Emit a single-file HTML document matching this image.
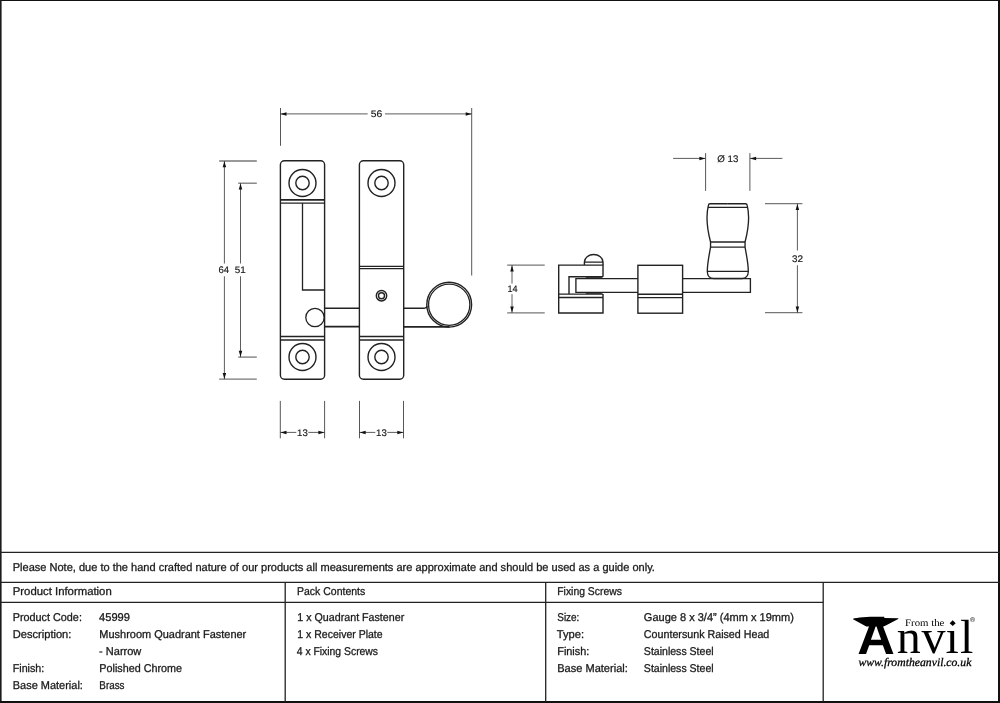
<!DOCTYPE html>
<html lang="en">
<head>
<meta charset="utf-8">
<title>Mushroom Quadrant Fastener - Narrow - Product Drawing</title>
<style>
html,body{margin:0;padding:0;background:#fff;}
body{width:1000px;height:703px;overflow:hidden;font-family:"Liberation Sans",sans-serif;}
svg{display:block;position:absolute;left:0;top:0;will-change:transform;transform:translateZ(0);}
text{white-space:pre;text-rendering:geometricPrecision;}
</style>
</head>
<body>
<svg width="1000" height="703" viewBox="0 0 1000 703">
<g id="frame" fill="#111">
<rect x="0" y="0" width="1000" height="1"/>
<rect x="0" y="0" width="1.6" height="703" fill="#1c1c1c"/>
<rect x="998" y="0" width="2" height="703"/>
<rect x="0" y="701" width="1000" height="2"/>
</g>
<g id="table-lines" stroke="#222" stroke-width="1.3" fill="none">
<line x1="0" y1="552.3" x2="1000" y2="552.3"/>
<line x1="0" y1="582.4" x2="1000" y2="582.4"/>
<line x1="0" y1="602.4" x2="823.2" y2="602.4"/>
<line x1="285.2" y1="582.4" x2="285.2" y2="702"/>
<line x1="545.7" y1="582.4" x2="545.7" y2="702"/>
<line x1="823.2" y1="582.4" x2="823.2" y2="702"/>
</g>
<g id="front-view" stroke="#222" stroke-width="1.4" fill="none">
<rect x="280.4" y="160.8" width="44.2" height="218.4" rx="4"/>
<rect x="359.4" y="160.8" width="44.3" height="218.4" rx="4"/>
<circle cx="302.5" cy="183.0" r="13.5"/><circle cx="302.5" cy="183.0" r="6.7"/>
<circle cx="302.5" cy="357.0" r="13.5"/><circle cx="302.5" cy="357.0" r="6.7"/>
<circle cx="381.5" cy="183.0" r="13.5"/><circle cx="381.5" cy="183.0" r="6.7"/>
<circle cx="381.5" cy="357.0" r="13.5"/><circle cx="381.5" cy="357.0" r="6.7"/>
<line x1="280.4" y1="199.8" x2="324.6" y2="199.8" stroke-width="1.7"/>
<line x1="280.4" y1="203.1" x2="324.6" y2="203.1" stroke-width="1.3"/>
<path d="M302.5 203.1V290H324.6" stroke-width="1.3"/>
<circle cx="315" cy="317.5" r="9.2" stroke-width="1.3"/>
<line x1="280.4" y1="336.5" x2="324.6" y2="336.5"/>
<line x1="280.4" y1="340" x2="324.6" y2="340"/>
<line x1="359.4" y1="266.4" x2="403.7" y2="266.4" stroke-width="1.2"/>
<line x1="359.4" y1="268.6" x2="403.7" y2="268.6" stroke-width="1.2"/>
<circle cx="381.5" cy="295.7" r="5.2" stroke-width="1.45"/><circle cx="381.5" cy="295.7" r="3.0" stroke-width="1.4"/>
<line x1="359.4" y1="336.5" x2="403.7" y2="336.5"/>
<line x1="359.4" y1="340" x2="403.7" y2="340"/>
<line x1="324.6" y1="308.2" x2="359.4" y2="308.2" stroke-width="1.35"/>
<line x1="324.6" y1="326.7" x2="359.4" y2="326.7" stroke-width="1.7"/>
<path d="M403.7 308.2H424.6Q426.6 308 427.1 306" stroke-width="1.35"/>
<line x1="403.7" y1="326.9" x2="449.5" y2="326.9" stroke-width="1.6"/>
<circle cx="449.2" cy="304.7" r="22.4" stroke-width="1.4"/><circle cx="449.2" cy="304.7" r="20.65" stroke-width="1.3"/>
</g>
<g id="side-view" stroke="#222" stroke-width="1.4" fill="none" stroke-linejoin="miter">
<path d="M603 276.8V265.1H558.7V313H603V294.1"/>
<path d="M603 276.8H569V294.1"/>
<line x1="558.7" y1="294.1" x2="603" y2="294.1"/>
<line x1="558.7" y1="297.5" x2="603" y2="297.5"/>
<path d="M584.4 265.1V262.1A9.3 7.6 0 0 1 603 262.1V265.1M584.4 262.1H603"/>
<path d="M637.9 278.6H575.9V292.3H637.9" stroke-width="1.35"/>
<path d="M682.6 278.6H750.4V292.3H682.6" stroke-width="1.35"/>
<line x1="585.8" y1="277.8" x2="601.8" y2="277.8" stroke-width="1.2"/>
<line x1="585.8" y1="293.2" x2="601.8" y2="293.2" stroke-width="1.2"/>
<rect x="637.9" y="265.3" width="44.7" height="47.9"/>
<line x1="637.9" y1="294.3" x2="682.6" y2="294.3"/>
<line x1="637.9" y1="297.6" x2="682.6" y2="297.6"/>
<path d="M727.80 203.7 H745.50 Q747.00 203.7 747.20 205.4 C749.60 215 749.00 227 745.05 242 V247.2 C746.40 255 748.30 263 748.30 271.4 C748.30 276 745.30 278.5 741.90 278.5 H727.80" stroke-width="1.35"/><path d="M727.80 203.7 H710.10 Q708.60 203.7 708.40 205.4 C706.00 215 706.60 227 710.55 242 V247.2 C709.20 255 707.30 263 707.30 271.4 C707.30 276 710.30 278.5 713.70 278.5 H727.80" stroke-width="1.35"/>
<line x1="707.9" y1="207.4" x2="747.6999999999999" y2="207.4" stroke-width="1.3"/>
<line x1="710.55" y1="242" x2="745.05" y2="242" stroke-width="1.3"/>
<line x1="710.55" y1="247.2" x2="745.05" y2="247.2" stroke-width="1.3"/>
<line x1="707.3" y1="271.4" x2="748.3" y2="271.4" stroke-width="1.3"/>
</g>
<g id="ext-h" stroke="#777" stroke-width="1.3" fill="none">
<line x1="219.2" y1="161" x2="256.8" y2="161"/>
<line x1="219.2" y1="379.2" x2="256.8" y2="379.2"/>
<line x1="238.2" y1="183.2" x2="256.8" y2="183.2"/>
<line x1="238.2" y1="357.1" x2="256.8" y2="357.1"/>
<line x1="507.2" y1="265.2" x2="544.7" y2="265.2"/>
<line x1="507.2" y1="312.9" x2="544.7" y2="312.9"/>
<line x1="765" y1="203.7" x2="802.4" y2="203.7"/>
<line x1="765" y1="312.7" x2="802.4" y2="312.7"/>
</g>
<g id="ext-v" stroke="#444" stroke-width="0.9" fill="none">
<line x1="280.5" y1="108" x2="280.5" y2="145.8"/>
<line x1="471.7" y1="108" x2="471.7" y2="275.5"/>
<line x1="280.3" y1="400.9" x2="280.3" y2="438.3"/>
<line x1="324.6" y1="400.9" x2="324.6" y2="438.3"/>
<line x1="359.5" y1="400.9" x2="359.5" y2="438.3"/>
<line x1="403.5" y1="400.9" x2="403.5" y2="438.3"/>
<line x1="705.6" y1="153.1" x2="705.6" y2="190.9"/>
<line x1="749.9" y1="153.1" x2="749.9" y2="190.9"/>
</g>
<g id="dim-lines" stroke="#333" stroke-width="0.8" fill="none">
<line x1="280.5" y1="113.9" x2="367.7" y2="113.9"/>
<line x1="385" y1="113.9" x2="471.7" y2="113.9"/>
<line x1="224.4" y1="161" x2="224.4" y2="263.5"/>
<line x1="224.4" y1="276.3" x2="224.4" y2="379.2"/>
<line x1="240.5" y1="183.2" x2="240.5" y2="263.5"/>
<line x1="240.5" y1="276.3" x2="240.5" y2="357.1"/>
<line x1="280.3" y1="432.4" x2="296.3" y2="432.4"/>
<line x1="308.3" y1="432.4" x2="324.6" y2="432.4"/>
<line x1="359.5" y1="432.4" x2="375.3" y2="432.4"/>
<line x1="387.3" y1="432.4" x2="403.5" y2="432.4"/>
<line x1="512" y1="265.2" x2="512" y2="283.6"/>
<line x1="512" y1="294.2" x2="512" y2="312.9"/>
<line x1="673.1" y1="158.4" x2="705.6" y2="158.4"/>
<line x1="749.9" y1="158.4" x2="782.4" y2="158.4"/>
<line x1="797.4" y1="203.7" x2="797.4" y2="250.5"/>
<line x1="797.4" y1="265.2" x2="797.4" y2="312.7"/>
</g>
<g id="arrows" fill="#111" stroke="none">
<polygon points="280.50,113.90 286.50,112.15 286.50,115.65"/>
<polygon points="471.70,113.90 465.70,112.15 465.70,115.65"/>
<polygon points="224.40,161.30 222.65,167.30 226.15,167.30"/>
<polygon points="224.40,378.90 222.65,372.90 226.15,372.90"/>
<polygon points="240.50,183.50 238.75,189.50 242.25,189.50"/>
<polygon points="240.50,356.80 238.75,350.80 242.25,350.80"/>
<polygon points="280.50,432.40 286.50,430.65 286.50,434.15"/>
<polygon points="324.40,432.40 318.40,430.65 318.40,434.15"/>
<polygon points="359.70,432.40 365.70,430.65 365.70,434.15"/>
<polygon points="403.30,432.40 397.30,430.65 397.30,434.15"/>
<polygon points="512.00,265.50 510.25,271.50 513.75,271.50"/>
<polygon points="512.00,312.60 510.25,306.60 513.75,306.60"/>
<polygon points="705.40,158.40 699.40,156.65 699.40,160.15"/>
<polygon points="750.10,158.40 756.10,156.65 756.10,160.15"/>
<polygon points="797.40,204.00 795.65,210.00 799.15,210.00"/>
<polygon points="797.40,312.40 795.65,306.40 799.15,306.40"/>
</g>
<g id="dim-text">
<text transform="translate(370.80 117.20) scale(1.0891 1)" font-family="'Liberation Sans', sans-serif" font-size="9.5" fill="#1a1a1a" stroke="#1a1a1a" stroke-width="0.18">56</text>
<text transform="translate(218.50 273.30) scale(1.0016 1)" font-family="'Liberation Sans', sans-serif" font-size="9.5" fill="#1a1a1a" stroke="#1a1a1a" stroke-width="0.18">64</text>
<text transform="translate(234.70 273.30) scale(1.0405 1)" font-family="'Liberation Sans', sans-serif" font-size="9.5" fill="#1a1a1a" stroke="#1a1a1a" stroke-width="0.18">51</text>
<text transform="translate(297.10 436.00) scale(1.0113 1)" font-family="'Liberation Sans', sans-serif" font-size="9.5" fill="#1a1a1a" stroke="#1a1a1a" stroke-width="0.18">13</text>
<text transform="translate(376.10 436.00) scale(1.0113 1)" font-family="'Liberation Sans', sans-serif" font-size="9.5" fill="#1a1a1a" stroke="#1a1a1a" stroke-width="0.18">13</text>
<text transform="translate(507.50 292.40) scale(0.9530 1)" font-family="'Liberation Sans', sans-serif" font-size="9.5" fill="#1a1a1a" stroke="#1a1a1a" stroke-width="0.18">14</text>
<text transform="translate(717.30 161.50) scale(1.0240 1)" font-family="'Liberation Sans', sans-serif" font-size="9.5" fill="#1a1a1a" stroke="#1a1a1a" stroke-width="0.18">Ø 13</text>
<text transform="translate(792.00 261.70) scale(1.0405 1)" font-family="'Liberation Sans', sans-serif" font-size="9.5" fill="#1a1a1a" stroke="#1a1a1a" stroke-width="0.18">32</text>
</g>
<g id="table-text">
<text transform="translate(12.75 571.00) scale(0.9760 1)" font-family="'Liberation Sans', sans-serif" font-size="11.3" fill="#1a1a1a" stroke="#1a1a1a" stroke-width="0.3">Please Note, due to the hand crafted nature of our products all measurements are approximate and should be used as a guide only.</text>
<text transform="translate(12.75 595.30) scale(1.0041 1)" font-family="'Liberation Sans', sans-serif" font-size="11.3" fill="#1a1a1a" stroke="#1a1a1a" stroke-width="0.3">Product Information</text>
<text transform="translate(297.05 595.30) scale(0.9279 1)" font-family="'Liberation Sans', sans-serif" font-size="11.3" fill="#1a1a1a" stroke="#1a1a1a" stroke-width="0.3">Pack Contents</text>
<text transform="translate(557.25 595.30) scale(0.9185 1)" font-family="'Liberation Sans', sans-serif" font-size="11.3" fill="#1a1a1a" stroke="#1a1a1a" stroke-width="0.3">Fixing Screws</text>
<text transform="translate(12.75 621.00) scale(0.9573 1)" font-family="'Liberation Sans', sans-serif" font-size="11.3" fill="#1a1a1a" stroke="#1a1a1a" stroke-width="0.3">Product Code:</text>
<text transform="translate(12.75 638.00) scale(0.9831 1)" font-family="'Liberation Sans', sans-serif" font-size="11.3" fill="#1a1a1a" stroke="#1a1a1a" stroke-width="0.3">Description:</text>
<text transform="translate(12.75 671.70) scale(0.9477 1)" font-family="'Liberation Sans', sans-serif" font-size="11.3" fill="#1a1a1a" stroke="#1a1a1a" stroke-width="0.3">Finish:</text>
<text transform="translate(12.75 688.60) scale(0.9713 1)" font-family="'Liberation Sans', sans-serif" font-size="11.3" fill="#1a1a1a" stroke="#1a1a1a" stroke-width="0.3">Base Material:</text>
<text transform="translate(99.05 621.00) scale(0.9829 1)" font-family="'Liberation Sans', sans-serif" font-size="11.3" fill="#1a1a1a" stroke="#1a1a1a" stroke-width="0.3">45999</text>
<text transform="translate(99.35 638.00) scale(0.9706 1)" font-family="'Liberation Sans', sans-serif" font-size="11.3" fill="#1a1a1a" stroke="#1a1a1a" stroke-width="0.3">Mushroom Quadrant Fastener</text>
<text transform="translate(99.05 654.90) scale(0.9763 1)" font-family="'Liberation Sans', sans-serif" font-size="11.3" fill="#1a1a1a" stroke="#1a1a1a" stroke-width="0.3">- Narrow</text>
<text transform="translate(99.35 671.70) scale(0.9529 1)" font-family="'Liberation Sans', sans-serif" font-size="11.3" fill="#1a1a1a" stroke="#1a1a1a" stroke-width="0.3">Polished Chrome</text>
<text transform="translate(99.35 688.60) scale(0.8690 1)" font-family="'Liberation Sans', sans-serif" font-size="11.3" fill="#1a1a1a" stroke="#1a1a1a" stroke-width="0.3">Brass</text>
<text transform="translate(297.35 620.90) scale(0.9455 1)" font-family="'Liberation Sans', sans-serif" font-size="11.3" fill="#1a1a1a" stroke="#1a1a1a" stroke-width="0.3">1 x Quadrant Fastener</text>
<text transform="translate(297.35 637.90) scale(0.9301 1)" font-family="'Liberation Sans', sans-serif" font-size="11.3" fill="#1a1a1a" stroke="#1a1a1a" stroke-width="0.3">1 x Receiver Plate</text>
<text transform="translate(296.75 654.80) scale(0.9182 1)" font-family="'Liberation Sans', sans-serif" font-size="11.3" fill="#1a1a1a" stroke="#1a1a1a" stroke-width="0.3">4 x Fixing Screws</text>
<text transform="translate(557.25 621.00) scale(0.8808 1)" font-family="'Liberation Sans', sans-serif" font-size="11.3" fill="#1a1a1a" stroke="#1a1a1a" stroke-width="0.3">Size:</text>
<text transform="translate(556.75 638.00) scale(0.9894 1)" font-family="'Liberation Sans', sans-serif" font-size="11.3" fill="#1a1a1a" stroke="#1a1a1a" stroke-width="0.3">Type:</text>
<text transform="translate(557.25 654.90) scale(0.9628 1)" font-family="'Liberation Sans', sans-serif" font-size="11.3" fill="#1a1a1a" stroke="#1a1a1a" stroke-width="0.3">Finish:</text>
<text transform="translate(557.25 671.70) scale(0.9769 1)" font-family="'Liberation Sans', sans-serif" font-size="11.3" fill="#1a1a1a" stroke="#1a1a1a" stroke-width="0.3">Base Material:</text>
<text transform="translate(643.85 621.00) scale(0.9750 1)" font-family="'Liberation Sans', sans-serif" font-size="11.3" fill="#1a1a1a" stroke="#1a1a1a" stroke-width="0.3">Gauge 8 x 3/4” (4mm x 19mm)</text>
<text transform="translate(643.85 638.00) scale(0.9469 1)" font-family="'Liberation Sans', sans-serif" font-size="11.3" fill="#1a1a1a" stroke="#1a1a1a" stroke-width="0.3">Countersunk Raised Head</text>
<text transform="translate(643.85 654.90) scale(0.9338 1)" font-family="'Liberation Sans', sans-serif" font-size="11.3" fill="#1a1a1a" stroke="#1a1a1a" stroke-width="0.3">Stainless Steel</text>
<text transform="translate(643.85 671.70) scale(0.9338 1)" font-family="'Liberation Sans', sans-serif" font-size="11.3" fill="#1a1a1a" stroke="#1a1a1a" stroke-width="0.3">Stainless Steel</text>
</g>
<g id="logo">
<text transform="translate(905.00 625.50) scale(1.0826 1)" font-family="'Liberation Serif', serif" font-size="10" fill="#000">From the</text>
<text transform="translate(858.50 666.20) scale(1.0099 1)" font-family="'Liberation Serif', serif" font-size="11.6" font-style="italic" fill="#000" stroke="#000" stroke-width="0.28">www.fromtheanvil.co.uk</text>
<text transform="translate(857.36 653.60) scale(1.0412 1)" font-family="'Liberation Sans', sans-serif" font-size="50" font-weight="bold" fill="#000">A</text>
<text transform="translate(970.00 621.60) scale(1.0000 1)" font-family="'Liberation Sans', sans-serif" font-size="7" fill="#000">®</text>
<text x="896.80 921.40 945.40 959.90" y="653.3" font-family="'Liberation Serif', serif" font-size="48" fill="#000">nvil</text>
<circle cx="952.30" cy="623.5" r="4" fill="#fff"/>
<polygon fill="#000" points="952.70,620.3 955.70,623.2 952.70,626.1 949.70,623.2"/>
<path fill="#000" d="M852.6 618.9 C858 617.1 870 616.6 884.2 616.8 L884.4 618 L898.4 618.2 L898.2 618.9 L886.3 625.3 L883.6 626.6 L869 626.6 L866.3 626.4 Z"/>
</g>
</svg>
</body>
</html>
